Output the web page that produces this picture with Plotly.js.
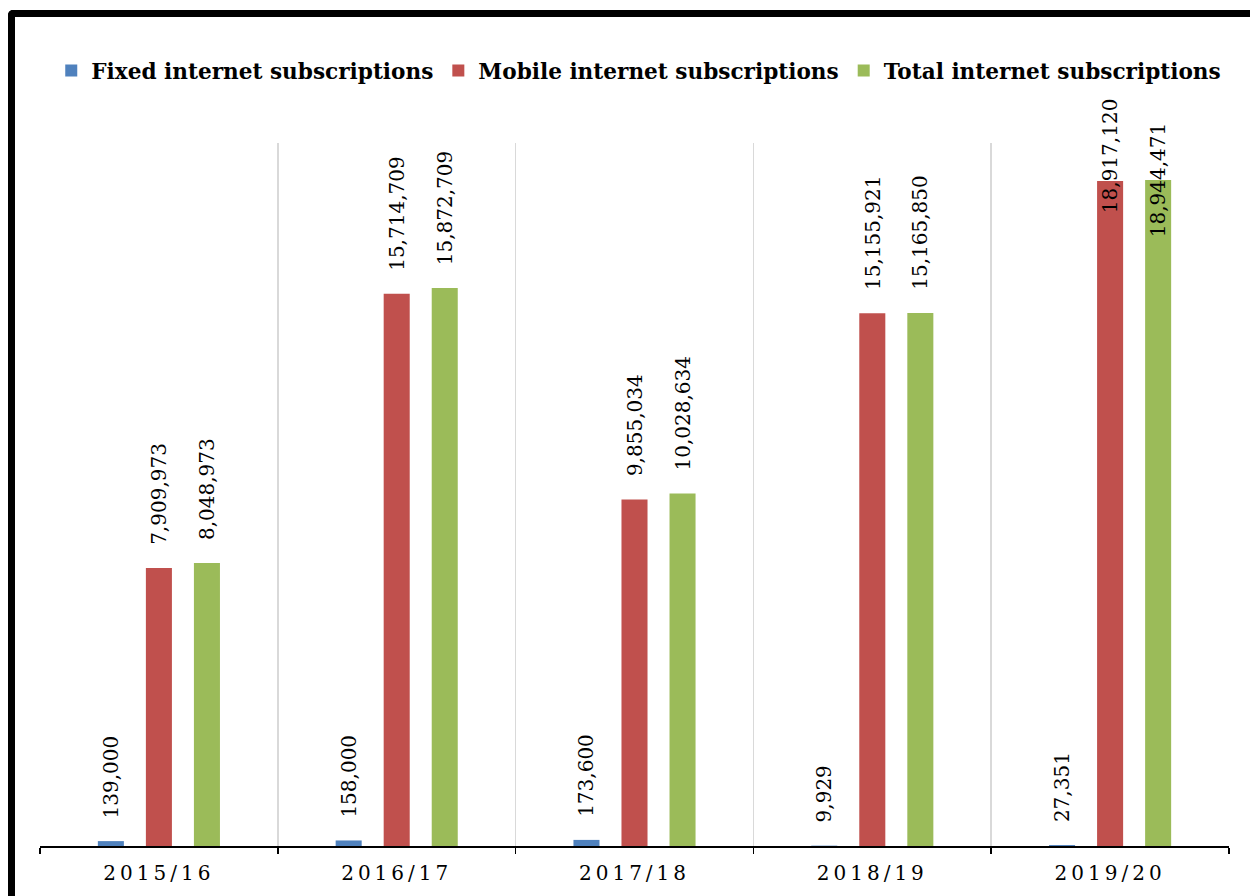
<!DOCTYPE html>
<html>
<head>
<meta charset="utf-8">
<script src="https://cdn.plot.ly/plotly-3.0.1.min.js"></script>
<style>
  html, body { margin:0; padding:0; background:#fff; overflow:hidden; }
  #wrap { position:relative; width:1250px; height:896px; }
  #chart { position:absolute; left:0; top:0; width:1250px; height:896px; }
  #frame { position:absolute; left:8px; top:10px; width:1400px; height:1000px;
           border-left:7px solid #000; border-top:7px solid #000;
           border-top-left-radius:5px; pointer-events:none; box-sizing:border-box; }
  .xtick text { letter-spacing:4px; }
</style>
</head>
<body>
<div id="wrap">
  <div id="chart"></div>
  <div id="frame"></div>
</div>
<script>
const years = ['2015/16', '2016/17', '2017/18', '2018/19', '2019/20'];
const seriesNames = ['Fixed internet subscriptions', 'Mobile internet subscriptions', 'Total internet subscriptions'];
const fixedSubs  = [139000, 158000, 173600, 9929, 27351];
const mobileSubs = [7909973, 15714709, 9855034, 15155921, 18917120];
const totalSubs  = [8048973, 15872709, 10028634, 15165850, 18944471];

const colors = ['#4F81BD', '#C0504D', '#9BBB59'];
const seriesValues = [fixedSubs, mobileSubs, totalSubs];
const yMax = 20000000;
const barGap = 0.394;
const barGroupGap = 0.458;

const serif = '"DejaVu Serif", "Liberation Serif", serif';

const traces = seriesValues.map((vals, i) => ({
  type: 'bar',
  name: seriesNames[i],
  x: years,
  y: vals,
  marker: { color: colors[i] },
  hoverinfo: 'x+y+name'
}));

// data labels derived from the values, placed above each bar
const slot = (1 - barGap) / seriesValues.length;
const annotations = [];
seriesValues.forEach((vals, i) => {
  const off = (i - (seriesValues.length - 1) / 2) * slot;
  vals.forEach((v, j) => {
    const overflow = v / yMax > 0.9;
    const ann = {
      x: j + off, y: v, xref: 'x', yref: 'y',
      text: v.toLocaleString('en-US'),
      showarrow: false, textangle: -90,
      font: { family: serif, size: 20, color: '#000' },
      yanchor: 'bottom', yshift: 21
    };
    if (overflow) {
      ann.yanchor = 'middle';
      ann.yshift = (i === 1) ? 25 : 0;
    }
    annotations.push(ann);
  });
});

const layout = {
  width: 1250, height: 896,
  margin: { l: 40, r: 21, t: 143, b: 50 },
  paper_bgcolor: '#fff', plot_bgcolor: '#fff',
  barmode: 'group',
  bargap: barGap,
  bargroupgap: barGroupGap,
  showlegend: true,
  legend: {
    orientation: 'h',
    x: 0.511, xanchor: 'center', xref: 'container',
    y: (896 - 71) / 896, yanchor: 'middle', yref: 'container',
    font: { family: serif, size: 21.6, color: '#000', weight: 'bold' },
    itemclick: false
  },
  xaxis: {
    type: 'category',
    range: [-0.5, 4.5],
    tickson: 'boundaries',
    ticks: 'outside', ticklen: 6, tickcolor: '#000', tickwidth: 1.5,
    showgrid: true, gridcolor: '#D9D9D9', gridwidth: 1.5,
    showline: true, linecolor: '#000', linewidth: 1.5,
    tickfont: { family: serif, size: 20, color: '#000' },
    ticklabelstandoff: 8,
    fixedrange: true
  },
  yaxis: {
    range: [0, yMax],
    visible: false,
    fixedrange: true
  },
  annotations: annotations
};

Plotly.newPlot('chart', traces, layout, { displayModeBar: false, staticPlot: true });
</script>
</body>
</html>
